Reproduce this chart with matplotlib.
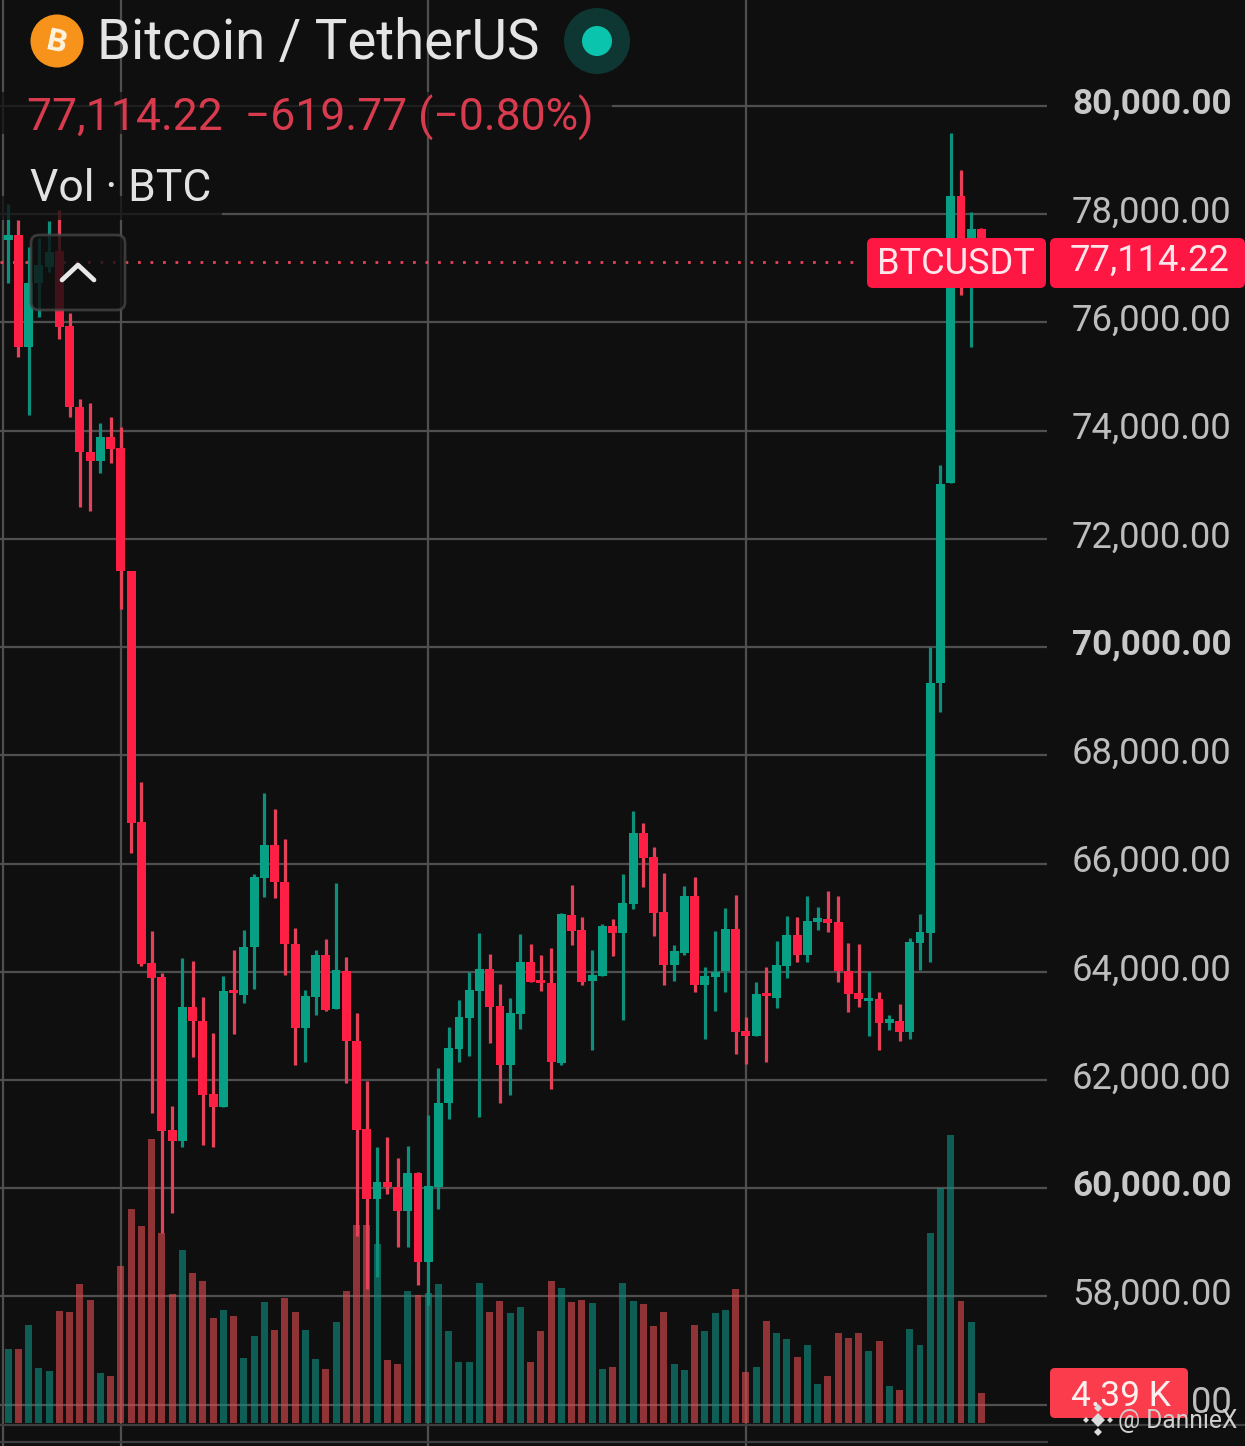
import numpy as np
import matplotlib
matplotlib.use('Agg')
import matplotlib.pyplot as plt
from matplotlib.patches import Circle, FancyBboxPatch, Rectangle, Polygon
from matplotlib.transforms import ScaledTranslation

plt.rcParams['font.family'] = ['Roboto', 'DejaVu Sans']

# candles
opens = [77520, 77620, 75550, 76730, 77030, 77320, 75930, 74440, 73610, 73440, 73880, 73680,
         71410, 66770, 64160, 63900, 61080, 60870, 63350, 63090, 61740, 61500, 63660, 63570,
         64460, 65730, 66340, 65660, 64510, 62960, 63530, 64310, 63310, 64020, 62720, 61100,
         59800, 60120, 60020, 59580, 60280, 58640, 60020, 61580, 62570, 63150, 63650, 64050,
         63370, 62280, 63220, 64180, 63850, 63790, 62320, 65050, 64770, 63830, 63920, 64850,
         64720, 65250, 66570, 66120, 65110, 64130, 64350, 65400, 63760, 63900, 64020, 64790,
         62910, 62810, 63610, 63520, 64110, 64680, 64310, 64920, 64980, 64920, 64020, 63610,
         63460, 63500, 63050, 63090, 62890, 64530, 64720, 69340, 73030, 78340, 76970, 77734]
closes = [77620, 75550, 76730, 77060, 77300, 75920, 74440, 73610, 73440, 73880, 73660, 71410,
          66750, 64140, 63890, 61060, 60870, 63350, 63090, 61720, 61500, 63650, 63610, 64460,
          65750, 66340, 65660, 64510, 62960, 63550, 64310, 63290, 64030, 62720, 61080, 59800,
          60120, 60020, 59580, 60280, 58640, 60040, 61580, 62590, 63170, 63660, 64050, 63350,
          62280, 63240, 64180, 63810, 63790, 62330, 65070, 64750, 63810, 63940, 64850, 64720,
          65270, 66570, 66100, 65090, 64130, 64380, 65400, 63760, 63920, 64000, 64790, 62890,
          62810, 63590, 63550, 64130, 64680, 64310, 64940, 64990, 64900, 64020, 63590, 63500,
          63520, 63050, 63130, 62890, 64550, 64740, 69340, 73020, 78340, 76970, 77730, 77114.22]
highs = [78190, 77890, 77390, 77560, 77880, 78080, 76180, 74590, 74510, 74140, 74250, 74070,
         71410, 67510, 64750, 63980, 61520, 64260, 64200, 63530, 62870, 63920, 64400, 64770,
         65810, 67300, 67010, 66450, 64810, 63660, 64400, 64610, 65640, 64270, 63240, 61980,
         60760, 60950, 60560, 60780, 60300, 61350, 62220, 62980, 63480, 64000, 64720, 64330,
         63780, 63520, 64700, 64510, 64310, 64440, 65090, 65600, 65010, 64400, 64880, 64980,
         65810, 66970, 66750, 66310, 65830, 64500, 65590, 65750, 64090, 64750, 65180, 65420,
         63170, 63810, 64090, 64570, 65030, 65010, 65400, 65200, 65490, 65400, 64530, 64510,
         64020, 63630, 63200, 63410, 64630, 65070, 70000, 73370, 79500, 78820, 78040, 77750]
lows = [76730, 75360, 74290, 76100, 76930, 75690, 74250, 72590, 72520, 73220, 73400, 70710,
        66200, 64110, 61390, 59170, 59540, 60760, 62430, 60800, 60760, 61500, 62850, 63420,
        63680, 65380, 65360, 63940, 62280, 62330, 63200, 63280, 63310, 61950, 59120, 58140,
        58360, 59890, 58910, 58910, 58210, 57840, 59620, 61280, 62330, 62440, 61320, 62680,
        61580, 61720, 62940, 63810, 63650, 61830, 62280, 64500, 63760, 62560, 63920, 64290,
        63110, 65160, 65570, 64660, 63760, 63830, 64310, 63630, 62760, 63280, 63630, 62480,
        62300, 62810, 62330, 63330, 63890, 64180, 64180, 64770, 64740, 63810, 63260, 63350,
        62810, 62560, 62920, 62720, 62760, 64030, 64180, 68800, 73030, 76510, 75550, 77000]
# volume in thousands of BTC
volumes = [10.9, 10.9, 14.3, 8.0, 7.6, 16.4, 16.2, 20.3, 18.0, 7.3, 6.9, 23.0,
           31.3, 28.8, 41.5, 27.8, 18.9, 25.3, 21.9, 20.8, 15.4, 16.5, 15.7, 9.5,
           12.7, 17.7, 13.6, 18.3, 16.2, 13.6, 9.4, 7.9, 14.8, 19.3, 29.0, 29.0,
           26.2, 9.2, 8.6, 19.3, 18.7, 19.0, 20.3, 13.5, 8.9, 8.9, 20.5, 16.2,
           17.8, 16.1, 17.0, 8.9, 13.5, 20.8, 19.8, 17.7, 18.0, 17.6, 7.9, 8.2,
           20.5, 17.8, 17.4, 14.2, 16.2, 8.6, 7.8, 14.3, 13.5, 16.1, 16.5, 19.6,
           7.5, 8.2, 14.9, 13.2, 12.3, 9.7, 11.4, 5.7, 6.9, 13.2, 12.4, 13.2,
           10.5, 12.0, 5.4, 4.8, 13.8, 11.4, 27.8, 34.4, 42.1, 17.8, 14.8, 4.39]

price_ticks = [80000, 78000, 76000, 74000, 72000, 70000, 68000, 66000, 64000, 62000, 60000, 58000, 56000]
bold_ticks = [80000, 70000, 60000]
time_lines = [-0.5, 11, 41, 72]
last_price = 77114.22

BG = '#0f0f10'
GRID = '#4f4f4f'
UP, DOWN = '#07a085', '#ff1f45'
UP_WICK, DOWN_WICK = '#0e8f7b', '#e64158'

W, H = 1245, 1446
fig = plt.figure(figsize=(W / 100, H / 100), dpi=100, facecolor=BG)

opens = np.array(opens)
closes = np.array(closes)
highs = np.array(highs)
lows = np.array(lows)
volumes = np.array(volumes)
x = np.arange(len(opens))
rising = closes >= opens

# volume pane sits underneath, price pane on top with a clear background
ax_vol = fig.add_axes([0, 0, 1, 1], facecolor=BG, zorder=1)
ax = fig.add_axes([0, 0, 1, 1], zorder=2)
ax.patch.set_visible(False)

x0, dx = 8.2, 10.245
xlim = (-x0 / dx, (W - x0) / dx)
right_edge = (1047 - x0) / dx
ylim = (80000 - (H - 106) * 18.48, 80000 + 106 * 18.48)
px_per_k = 30 / 4.39

for a in (ax, ax_vol):
    a.set_xlim(*xlim)
ax.set_ylim(*ylim)
ax_vol.set_ylim(-(H - 1423) / px_per_k, 1423 / px_per_k)
ax_vol.axis('off')

# grid
ax_vol.hlines(price_ticks, xlim[0], right_edge, color=GRID, lw=1.6, zorder=0, transform=ax.transData)
for t in time_lines:
    ax_vol.axvline(t, color=GRID, lw=1.6, zorder=0)

ax_vol.bar(x, volumes, width=0.68, color=['#0f8f80' if r else '#e04a50' for r in rising],
           alpha=0.62, zorder=2)

# candles
wick_colors = [UP_WICK if r else DOWN_WICK for r in rising]
ax.vlines(x, lows, highs, color=wick_colors, lw=2.3, zorder=3)
body_low = np.minimum(opens, closes)
body_h = np.maximum(np.abs(closes - opens), 50)
ax.bar(x, body_h, bottom=body_low, width=0.87, color=[UP if r else DOWN for r in rising], zorder=4)

# last price line
ax.hlines(last_price, xlim[0], 83.1, color='#e8435a', lw=2.0, linestyles=(0, (1, 3.5)), zorder=2)

# price scale
ax.set_yticks(price_ticks)
ax.set_yticklabels([f'{p:,.2f}' for p in price_ticks])
ax.set_xticks([])
ax.yaxis.tick_right()
ax.tick_params(axis='y', length=0, pad=-124.6, labelsize=26.2, labelcolor='#bdbdbd')
lift = ScaledTranslation(0, 5.5 / 100, fig.dpi_scale_trans)
for lab, p in zip(ax.get_yticklabels(), price_ticks):
    lab.set_transform(lab.get_transform() + lift)
    if p in bold_ticks:
        lab.set_fontweight('bold')
        lab.set_fontsize(25.3)
        lab.set_color('#c8c8c8')
for s in ax.spines.values():
    s.set_visible(False)

# everything on top of the chart, in screen pixels
ui = fig.add_axes([0, 0, 1, 1], zorder=5)
ui.set_xlim(0, W)
ui.set_ylim(H, 0)
ui.axis('off')

ui.plot([0, W], [1425, 1425], color='#3e3e3e', lw=1.6, zorder=1)
ui.plot([0, 1047], [1442, 1442], color='#3e3e3e', lw=1.6, zorder=1)

# legend backdrop dims the grid behind the header
ui.add_patch(Rectangle((0, 92), 612, 42, fc=BG, ec='none', alpha=0.75, zorder=1))
ui.add_patch(Rectangle((0, 196), 222, 24, fc=BG, ec='none', alpha=0.75, zorder=1))

ui.add_patch(Circle((57, 41), 26.5, fc='#f7931a', ec='none', zorder=3))
ui.text(57, 42, 'B', color='#fff3e0', fontsize=23, fontweight='bold', rotation=-12,
        ha='center', va='center', zorder=4)
ui.text(97, 43, 'Bitcoin / TetherUS', color='#e4e4e4', fontsize=39.3, va='center', ha='left', zorder=4)
ui.add_patch(Circle((597, 41), 33, fc='#0e3733', ec='none', zorder=3))
ui.add_patch(Circle((597, 41), 15, fc='#0bc4ad', ec='none', zorder=4))
ui.text(27, 118, '77,114.22  \u2212619.77 (\u22120.80%)', color='#d93b4e', fontsize=32,
        va='center', ha='left', zorder=4)
ui.text(30, 189, 'Vol \u00b7 BTC', color='#e2e2e2', fontsize=32, va='center', ha='left', zorder=4)

# collapse button
ui.add_patch(FancyBboxPatch((35, 239), 86, 67, boxstyle='round,pad=4,rounding_size=8',
                            fc='#0f0f10', ec='#454545', lw=2, alpha=0.8, zorder=3))
ui.plot([62, 78, 94], [280, 265, 280], color='#e8e8e8', lw=3.4, zorder=4, solid_capstyle='round')

# price labels
ui.add_patch(FancyBboxPatch((870, 241), 173, 44, boxstyle='round,pad=3,rounding_size=6',
                            fc='#ff1744', ec='none', zorder=6))
ui.add_patch(FancyBboxPatch((1053, 241), 189, 44, boxstyle='round,pad=3,rounding_size=6',
                            fc='#ff1744', ec='none', zorder=6))
ui.text(956, 264, 'BTCUSDT', color='#ffe6ea', fontsize=26, ha='center', va='center', zorder=7)
ui.text(1150, 261, '77,114.22', color='#ffe6ea', fontsize=26.2, ha='center', va='center', zorder=7)

ui.add_patch(FancyBboxPatch((1053, 1371), 132, 44, boxstyle='round,pad=3,rounding_size=5',
                            fc='#fb3c4c', ec='none', zorder=6))
ui.text(1121, 1396, '4.39 K', color='#fff0f0', fontsize=25.5, ha='center', va='center', zorder=7)

# watermark
for cx, cy, r in [(1098, 1420, 7), (1086, 1420, 3), (1110, 1420, 3), (1098, 1408, 4), (1098, 1432, 4)]:
    ui.add_patch(Polygon([(cx - r, cy), (cx, cy - r), (cx + r, cy), (cx, cy + r)], fc='#dcdcdc', ec='none', zorder=8))
ui.text(1118, 1421, '@ DannieX', color='#cfcfcf', fontsize=17.7, ha='left', va='center', zorder=8)

fig.savefig('out.png', dpi=100, facecolor=BG)
